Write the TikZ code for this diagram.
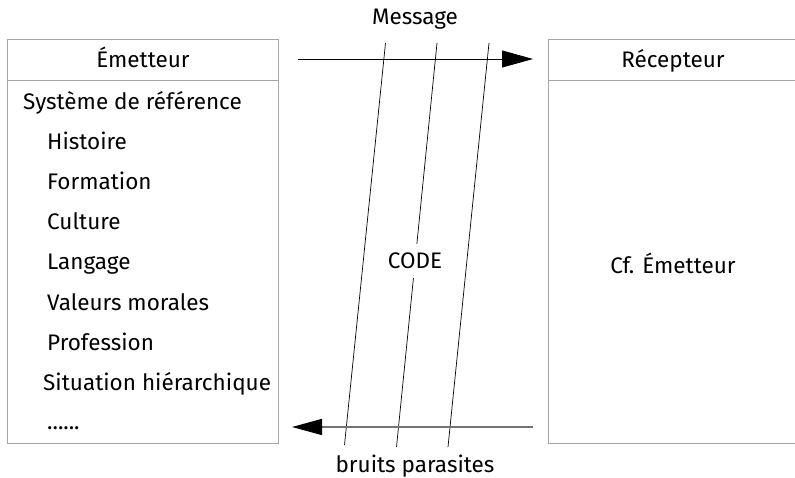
\documentclass[tikz,border=0pt]{standalone}
\usepackage{fontspec}
\setmainfont{Fira Sans}
\usetikzlibrary{arrows.meta}
\begin{document}
\begin{tikzpicture}[x=1pt,y=-1pt,
  every node/.style={inner sep=0pt, anchor=base, font=\fontsize{22.5}{25}\selectfont},
  frame/.style={draw=black!35, line width=1pt},
  noise/.style={draw=black, line width=0.7pt},
  item/.style={anchor=base west}]
\useasboundingbox (0,0) rectangle (795,478);
% sender box
\draw[frame] (7,40) rectangle (278,443);
\draw[frame] (7,81) -- (278,81);
% receiver box, running off the right edge
\draw[frame] (795,40) -- (548,40) -- (548,443) -- (795,443);
\draw[frame] (548,81) -- (795,81);
\node (em) at (143,68) {Émetteur};
\node (rc) at (673,68) {Récepteur};
\node (cf) at (673,274) {Cf. Émetteur};
\node[item] (sr) at (23,110) {Système de référence};
\node[item] (h) at (47,150) {Histoire};
\node[item] (f) at (47,190) {Formation};
\node[item] (c) at (47,230) {Culture};
\node[item] (l) at (47,270) {Langage};
\node[item] (v) at (47,310) {Valeurs morales};
\node[item] (p) at (47,350) {Profession};
\node[item] (s) at (43,390) {Situation hiérarchique};
\node[item] (d) at (47,429) {......};
% noise lines
\coordinate (n1a) at (385.5,43);  \coordinate (n1b) at (344.5,445);
\coordinate (n2a) at (437,43);    \coordinate (n2b) at (396.5,447);
\coordinate (n3a) at (489,43);    \coordinate (n3b) at (448,447);
\draw[noise] (n1a) -- (n1b);
\draw[noise] (n2a) -- (n2b);
\draw[noise] (n3a) -- (n3b);
\node[fill=white, inner xsep=2pt, inner ysep=9pt] (code) at (415,269) {CODE};
% message flows
\coordinate (m0) at (298,59);  \coordinate (m1) at (533,59);
\draw[line width=0.8pt, -{Triangle[length=31pt,width=17pt]}] (m0) -- (m1);
\coordinate (b0) at (533,427); \coordinate (b1) at (292,427);
\draw[draw=black!55, line width=1.5pt, -{Triangle[length=30pt,width=16pt,color=black,fill=black]}] (b0) -- (b1);
\node (msg) at (415,25) {Message};
\node (bp) at (415,472) {bruits parasites};
\end{tikzpicture}
\end{document}
